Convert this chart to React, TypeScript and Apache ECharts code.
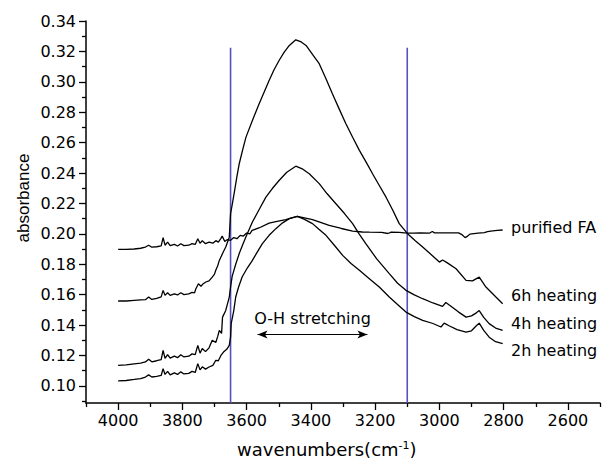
import React, { useEffect, useRef } from "react";
import * as echarts from "echarts";

// ---- data (wavenumber cm-1, absorbance) ----
const purifiedFA: [number, number][] = [
  [4000, 0.1898], [3975, 0.1898], [3950, 0.19], [3930, 0.1905], [3915, 0.1913], [3905, 0.1925], [3895, 0.1912],
  [3880, 0.1915], [3866, 0.192], [3860, 0.1975], [3854, 0.1925], [3846, 0.1945], [3838, 0.1922], [3825, 0.193],
  [3815, 0.192], [3805, 0.1935], [3795, 0.1922], [3780, 0.1925], [3770, 0.1935], [3760, 0.193], [3752, 0.1968],
  [3745, 0.1938], [3738, 0.1955], [3728, 0.1935], [3717, 0.1945], [3705, 0.1938], [3696, 0.1955], [3688, 0.1945],
  [3680, 0.197], [3676, 0.1985], [3668, 0.195], [3660, 0.1962], [3650, 0.1957], [3640, 0.1975], [3630, 0.1968],
  [3620, 0.199], [3610, 0.1985], [3600, 0.2005], [3590, 0.2], [3583, 0.2022], [3560, 0.204], [3530, 0.207],
  [3505, 0.2082], [3478, 0.2093], [3460, 0.2105], [3442, 0.2115], [3420, 0.2105], [3395, 0.2093], [3370, 0.2075],
  [3343, 0.2055], [3305, 0.2035], [3270, 0.2018], [3240, 0.2012], [3218, 0.2011], [3180, 0.201], [3160, 0.2002],
  [3150, 0.2011], [3125, 0.201], [3100, 0.2005], [3080, 0.2004], [3060, 0.2006], [3030, 0.2005], [3022, 0.2015],
  [3015, 0.2006], [2980, 0.2006], [2940, 0.2006], [2930, 0.1995], [2920, 0.1975], [2912, 0.1985], [2905, 0.1998],
  [2880, 0.2004], [2860, 0.2008], [2850, 0.2015], [2840, 0.2018], [2820, 0.2022], [2803, 0.2025],
];

const heating6h: [number, number][] = [
  [4000, 0.1558], [3975, 0.1558], [3950, 0.1562], [3930, 0.1565], [3915, 0.1567], [3905, 0.1585], [3895, 0.1568],
  [3880, 0.1575], [3866, 0.1585], [3860, 0.1628], [3854, 0.1595], [3846, 0.1612], [3838, 0.1595], [3825, 0.1605],
  [3815, 0.1598], [3805, 0.1612], [3795, 0.16], [3780, 0.1605], [3770, 0.1615], [3762, 0.1612], [3758, 0.1639],
  [3750, 0.1672], [3742, 0.1655], [3735, 0.1672], [3727, 0.1683], [3717, 0.169], [3707, 0.1715], [3700, 0.1735],
  [3696, 0.176], [3690, 0.179], [3685, 0.1825], [3675, 0.187], [3665, 0.1913], [3654, 0.1978], [3650, 0.2132],
  [3645, 0.219], [3639, 0.2264], [3630, 0.238], [3623, 0.2461], [3612, 0.2555], [3602, 0.2636], [3582, 0.2746],
  [3561, 0.2856], [3545, 0.2935], [3530, 0.3009], [3515, 0.3078], [3499, 0.314], [3483, 0.3195], [3467, 0.3239],
  [3447, 0.3276], [3430, 0.3262], [3415, 0.3239], [3395, 0.318], [3374, 0.3119], [3353, 0.302], [3333, 0.2921],
  [3312, 0.2822], [3291, 0.2724], [3270, 0.2635], [3249, 0.2549], [3228, 0.2472], [3208, 0.2395], [3187, 0.2318],
  [3166, 0.2241], [3145, 0.2155], [3125, 0.2067], [3099, 0.2001], [3075, 0.1955], [3052, 0.1913], [3025, 0.1862],
  [3000, 0.1814], [2990, 0.1828], [2974, 0.1807], [2948, 0.177], [2917, 0.1694], [2897, 0.169], [2876, 0.1715],
  [2855, 0.165], [2824, 0.1584], [2803, 0.154],
];

const heating4h: [number, number][] = [
  [4000, 0.1135], [3975, 0.1138], [3950, 0.1145], [3930, 0.115], [3915, 0.1157], [3905, 0.1175], [3895, 0.1158],
  [3880, 0.1165], [3866, 0.1172], [3860, 0.1233], [3854, 0.118], [3846, 0.1205], [3838, 0.1182], [3825, 0.1195],
  [3815, 0.1185], [3805, 0.1205], [3795, 0.119], [3780, 0.1195], [3770, 0.121], [3760, 0.1205], [3752, 0.1266],
  [3745, 0.1215], [3738, 0.1245], [3728, 0.1225], [3717, 0.125], [3707, 0.13], [3696, 0.1285], [3690, 0.1325],
  [3685, 0.1365], [3678, 0.1345], [3675, 0.1452], [3665, 0.1496], [3654, 0.1584], [3650, 0.165], [3645, 0.172],
  [3634, 0.18], [3623, 0.187], [3612, 0.193], [3602, 0.198], [3582, 0.2078], [3561, 0.216], [3540, 0.2241],
  [3520, 0.2298], [3499, 0.2351], [3475, 0.2405], [3447, 0.2445], [3425, 0.2425], [3405, 0.2395], [3374, 0.233],
  [3350, 0.2265], [3322, 0.2198], [3296, 0.2135], [3270, 0.2067], [3250, 0.2], [3229, 0.1935], [3195, 0.1835],
  [3156, 0.1738], [3130, 0.1675], [3104, 0.1628], [3078, 0.1598], [3052, 0.1573], [3020, 0.1545], [2990, 0.1523],
  [2980, 0.1548], [2965, 0.1525], [2940, 0.1485], [2917, 0.1452], [2900, 0.146], [2885, 0.148], [2876, 0.1495],
  [2862, 0.145], [2845, 0.1409], [2825, 0.138], [2803, 0.1365],
];

const heating2h: [number, number][] = [
  [4000, 0.1032], [3975, 0.1035], [3950, 0.1042], [3930, 0.1048], [3915, 0.1058], [3905, 0.1072], [3895, 0.1058],
  [3880, 0.1062], [3866, 0.1068], [3860, 0.1113], [3854, 0.1075], [3846, 0.1095], [3838, 0.1072], [3825, 0.1085],
  [3815, 0.1075], [3805, 0.1092], [3795, 0.1078], [3780, 0.1082], [3770, 0.1095], [3760, 0.1088], [3752, 0.1146],
  [3745, 0.1105], [3738, 0.1125], [3728, 0.111], [3717, 0.1124], [3705, 0.1135], [3696, 0.1168], [3688, 0.1165],
  [3680, 0.12], [3672, 0.1222], [3662, 0.124], [3654, 0.1266], [3650, 0.132], [3648, 0.1409], [3640, 0.1495],
  [3634, 0.1584], [3625, 0.165], [3614, 0.1716], [3598, 0.1775], [3582, 0.1825], [3567, 0.188], [3551, 0.1935],
  [3530, 0.199], [3509, 0.2034], [3488, 0.2072], [3467, 0.21], [3442, 0.2115], [3420, 0.2095], [3395, 0.2067],
  [3375, 0.203], [3353, 0.199], [3327, 0.1925], [3301, 0.1858], [3275, 0.1805], [3249, 0.176], [3218, 0.1705],
  [3187, 0.165], [3156, 0.1584], [3125, 0.1525], [3104, 0.1485], [3078, 0.1455], [3052, 0.143], [3020, 0.141],
  [2995, 0.1387], [2985, 0.1412], [2970, 0.1395], [2945, 0.137], [2917, 0.1354], [2900, 0.1362], [2885, 0.1395],
  [2876, 0.1412], [2862, 0.1365], [2845, 0.132], [2825, 0.129], [2803, 0.1277],
];

// vertical marker lines (wavenumber) and their top absorbance
const markerWavenumbers = [3650, 3100];
const markerTop = 0.3224;
// O-H stretching arrow
const arrowFrom: [number, number] = [3566, 0.1337];
const arrowTo: [number, number] = [3224, 0.1337];

// axes
const X_MIN = 2500;
const X_MAX = 4100;
const X_MAJOR = [4000, 3800, 3600, 3400, 3200, 3000, 2800, 2600];
const X_MINOR = [4100, 3900, 3700, 3500, 3300, 3100, 2900, 2700, 2500];
const Y_MIN = 0.0887;
const Y_MAX = 0.34;
const Y_MAJOR = [0.1, 0.12, 0.14, 0.16, 0.18, 0.2, 0.22, 0.24, 0.26, 0.28, 0.3, 0.32, 0.34];
const Y_MINOR = [0.09, 0.11, 0.13, 0.15, 0.17, 0.19, 0.21, 0.23, 0.25, 0.27, 0.29, 0.31, 0.33];

const seriesLabels = ["purified FA", "6h heating", "4h heating", "2h heating"];

const H_FONT = "DejaVu Sans";

export default function App() {
  const ref = useRef<HTMLDivElement>(null);

  useEffect(() => {
    if (!ref.current) return;
    const chart = echarts.init(ref.current, undefined, { renderer: "svg" });

    const blackLine = (name: string, data: [number, number][]) => ({
      name,
      type: "line",
      data,
      showSymbol: false,
      symbol: "none",
      lineStyle: { color: "#000", width: 1.3 },
      itemStyle: { color: "#000" },
      z: 3,
    });

    const markerSeries = markerWavenumbers.map((w, i) => ({
      name: "marker" + i,
      type: "line",
      data: [
        [w, markerTop],
        [w, Y_MIN],
      ],
      showSymbol: false,
      symbol: "none",
      lineStyle: { color: "#5252c2", width: 1.6 },
      z: 2,
    }));

    const tickLine = { color: "#000", width: 1.3 };

    chart.setOption({
      animation: false,
      backgroundColor: "#fff",
      grid: { left: 86, right: 3, top: 21, bottom: 57 },
      xAxis: [
        {
          type: "value",
          min: X_MIN,
          max: X_MAX,
          inverse: true,
          axisLine: { show: true, onZero: false, lineStyle: { color: "#000", width: 1.5 } },
          axisTick: { show: true, length: 7, customValues: X_MAJOR, lineStyle: tickLine },
          axisLabel: {
            customValues: X_MAJOR,
            margin: 9,
            color: "#000",
            fontSize: 16,
            fontFamily: H_FONT,
            formatter: (v: number) => String(Math.round(v)),
          },
          splitLine: { show: false },
        },
        {
          type: "value",
          min: X_MIN,
          max: X_MAX,
          inverse: true,
          position: "bottom",
          axisLine: { show: false },
          axisTick: { show: true, length: 4, customValues: X_MINOR, lineStyle: tickLine },
          axisLabel: { show: false },
          splitLine: { show: false },
        },
      ],
      yAxis: [
        {
          type: "value",
          min: Y_MIN,
          max: Y_MAX,
          axisLine: { show: true, onZero: false, lineStyle: { color: "#000", width: 1.5 } },
          axisTick: { show: true, length: 7, customValues: Y_MAJOR, lineStyle: tickLine },
          axisLabel: {
            customValues: Y_MAJOR,
            margin: 10,
            color: "#000",
            fontSize: 16,
            fontFamily: H_FONT,
            formatter: (v: number) => v.toFixed(2),
          },
          splitLine: { show: false },
        },
        {
          type: "value",
          min: Y_MIN,
          max: Y_MAX,
          position: "left",
          axisLine: { show: false },
          axisTick: { show: true, length: 4, customValues: Y_MINOR, lineStyle: tickLine },
          axisLabel: { show: false },
          splitLine: { show: false },
        },
      ],
      series: [
        blackLine(seriesLabels[0], purifiedFA),
        blackLine(seriesLabels[1], heating6h),
        blackLine(seriesLabels[2], heating4h),
        blackLine(seriesLabels[3], heating2h),
        ...markerSeries,
        {
          name: "arrow",
          type: "line",
          data: [],
          markLine: {
            silent: true,
            symbol: ["arrow", "arrow"],
            symbolSize: [6, 10],
            label: { show: false },
            lineStyle: { color: "#000", width: 1.2, type: "solid" },
            data: [[{ coord: arrowFrom }, { coord: arrowTo }]],
          },
        },
      ],
      graphic: [
        {
          type: "text",
          x: 23,
          y: 198,
          rotation: Math.PI / 2,
          style: {
            text: "absorbance",
            fontSize: 17,
            fontFamily: "Liberation Sans",
            fill: "#000",
            align: "center",
            verticalAlign: "middle",
          },
        },
        {
          type: "text",
          x: 237,
          y: 449,
          style: {
            text: "{a|wavenumbers(cm}{b|-1}{a|)}",
            align: "left",
            verticalAlign: "middle",
            rich: {
              a: { fontSize: 18, fontFamily: H_FONT, fill: "#000", verticalAlign: "bottom" },
              b: { fontSize: 11, fontFamily: H_FONT, fill: "#000", verticalAlign: "top" },
            },
          },
        },
        {
          type: "text",
          x: 312.5,
          y: 318,
          style: {
            text: "O-H stretching",
            fontSize: 16,
            fontFamily: H_FONT,
            fill: "#000",
            align: "center",
            verticalAlign: "middle",
          },
        },
        ...[
          { t: seriesLabels[0], y: 227 },
          { t: seriesLabels[1], y: 295 },
          { t: seriesLabels[2], y: 323 },
          { t: seriesLabels[3], y: 350 },
        ].map((l) => ({
          type: "text",
          x: 511,
          y: l.y,
          style: {
            text: l.t,
            fontSize: 16,
            fontFamily: H_FONT,
            fill: "#000",
            align: "left",
            verticalAlign: "middle",
          },
        })),
      ],
    });

    return () => chart.dispose();
  }, []);

  return (
    <div
      ref={ref}
      style={{ position: "fixed", left: 0, top: 0, width: 603, height: 460, background: "#fff" }}
    />
  );
}
